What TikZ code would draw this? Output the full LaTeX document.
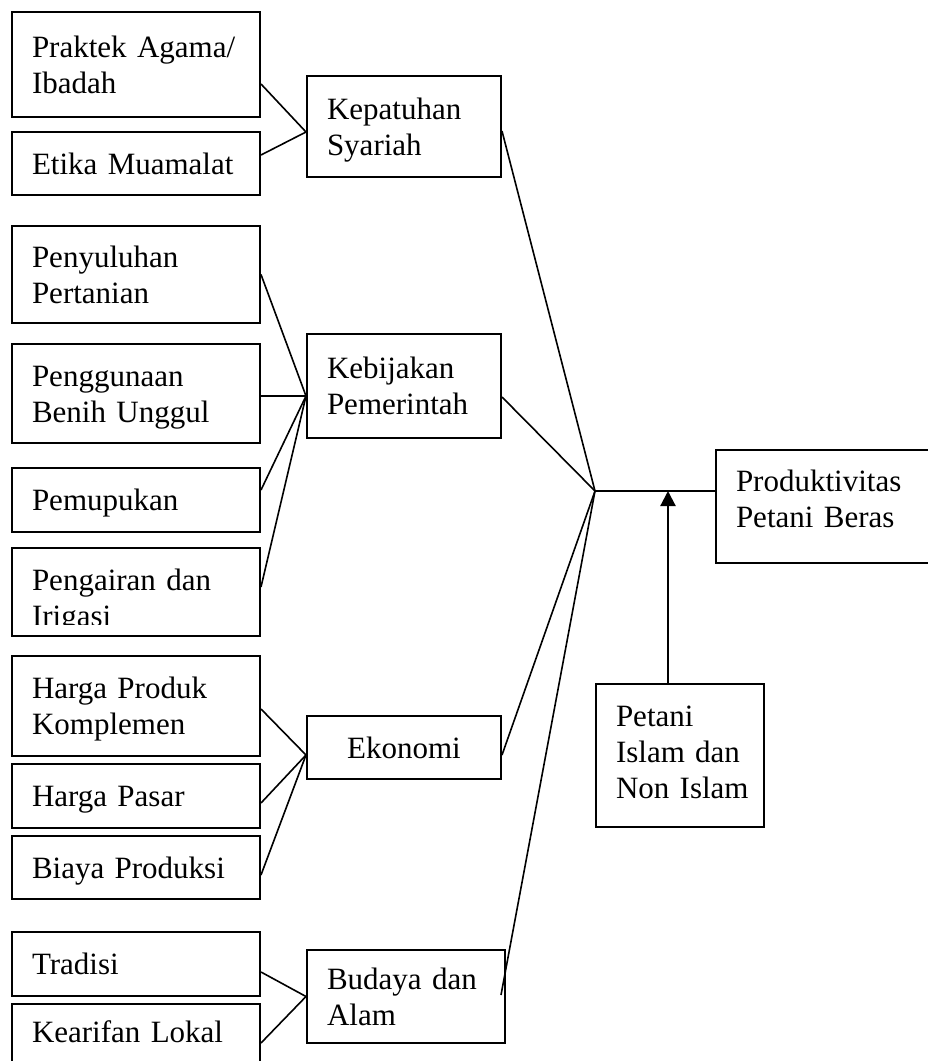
\documentclass[tikz,border=0pt]{standalone}
\usepackage{fontspec}
\setmainfont{Liberation Serif}
\usetikzlibrary{arrows.meta}
\begin{document}
\begin{tikzpicture}[x=1pt,y=-1pt,
  box/.style={draw, line width=2pt, inner xsep=20pt, inner ysep=0pt, align=left,
    font=\fontsize{31pt}{36pt}\selectfont, text height=21pt, text depth=0pt},
  twolines/.style={text depth=36pt},
  threelines/.style={text depth=72pt},
  leftbox/.style={box, text width=208pt},
  midbox/.style={box, text width=154pt},
  link/.style={line width=1.6pt},
  effect/.style={line width=2.2pt, -{Triangle[length=15pt,width=15pt]}}
]
\useasboundingbox (0,0) rectangle (928,1061);

% indicator boxes
\node[leftbox, twolines, minimum height=105pt] (b1) at (136,64.5) {\mbox{Praktek Agama/}\\Ibadah};
\node[leftbox, minimum height=63pt]  (b2) at (136,163.5) {\mbox{Etika Muamalat}};
\node[leftbox, twolines, minimum height=97pt]  (b3) at (136,274.5) {Penyuluhan\\Pertanian};
\node[leftbox, twolines, minimum height=99pt]  (b4) at (136,393.5) {Penggunaan\\\mbox{Benih Unggul}};
\node[leftbox, minimum height=64pt]  (b5) at (136,500) {Pemupukan};
% the second line of this box runs past its inner margin and is cut off
\begin{scope}
  \clip (0,540) rectangle (300,624)
        (0,624) rectangle (15,645)
        (257,624) rectangle (300,645)
        (0,633) rectangle (300,645);
  \node[leftbox, twolines, minimum height=88pt, text height=32pt] (b6) at (136,592) {\mbox{Pengairan dan}\\Irigasi};
\end{scope}
\node[leftbox, twolines, minimum height=100pt] (b7) at (136,706) {\mbox{Harga Produk}\\Komplemen};
\node[leftbox, minimum height=64pt]  (b8) at (136,796) {\mbox{Harga Pasar}};
\node[leftbox, minimum height=63pt]  (b9) at (136,867.5) {\mbox{Biaya Produksi}};
\node[leftbox, minimum height=64pt]  (b10) at (136,964) {Tradisi};
\node[leftbox, minimum height=64pt, text depth=9pt] (b11) at (136,1036) {\mbox{Kearifan Lokal}};

% factor boxes
\node[midbox, twolines, minimum height=101pt] (m1) at (404,126.5) {Kepatuhan\\Syariah};
\node[midbox, twolines, minimum height=104pt] (m2) at (404,386) {Kebijakan\\Pemerintah};
\node[midbox, minimum height=63pt, align=center] (m3) at (404,747.5) {Ekonomi};
\node[box, twolines, text width=158pt, minimum height=93pt] (m4) at (406,996.5) {\mbox{Budaya dan}\\Alam};

% outcome and moderator
\node[box, text width=184pt, minimum height=113pt, text depth=52pt] (prod) at (828,506.5) {Produktivitas\\\mbox{Petani Beras}};
\node[box, text width=128pt, minimum height=143pt, text depth=80pt] (petani) at (680,755.5) {Petani\\\mbox{Islam dan}\\\mbox{Non Islam}};

% indicators to factors
\draw[link] ([yshift=-19.5pt]b1.east) -- ([yshift=-5.5pt]m1.west);
\draw[link] ([yshift=8.5pt]b2.east) -- ([yshift=-5.5pt]m1.west);

\draw[link] (b3.east) -- ([yshift=-10pt]m2.west);
\draw[link] ([yshift=-2.5pt]b4.east) -- ([yshift=-10pt]m2.west);
\draw[link] ([yshift=10pt]b5.east) -- ([yshift=-10pt]m2.west);
\draw[link] ([yshift=5pt]b6.east) -- ([yshift=-10pt]m2.west);

\draw[link] ([yshift=-3pt]b7.east) -- ([yshift=-7.5pt]m3.west);
\draw[link] ([yshift=-7pt]b8.east) -- ([yshift=-7.5pt]m3.west);
\draw[link] ([yshift=-7.5pt]b9.east) -- ([yshift=-7.5pt]m3.west);

\draw[link] ([yshift=-8pt]b10.east) -- (m4.west);
\draw[link] ([yshift=-7pt]b11.east) -- (m4.west);

% factors to outcome
\coordinate (hub) at (595,491);
\draw[link] ([yshift=-4.5pt]m1.east) -- (hub);
\draw[link] ([yshift=-11pt]m2.east) -- (hub);
\draw[link] ([yshift=-7.5pt]m3.east) -- (hub);
\draw[link] ([xshift=-5pt,yshift=1.5pt]m4.east) -- (hub);
\draw[link] (hub) -- (prod.west |- hub);

% moderating effect
\draw[effect] ([xshift=-12pt]petani.north) -- ([xshift=-12pt]petani.north |- hub);
\end{tikzpicture}
\end{document}
